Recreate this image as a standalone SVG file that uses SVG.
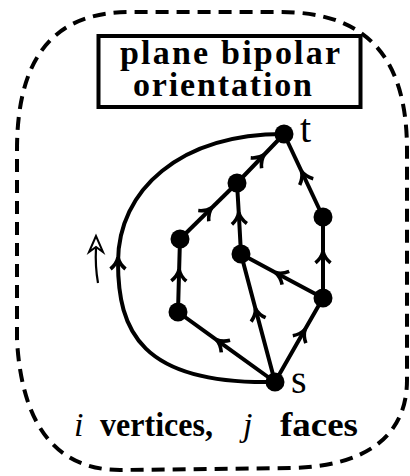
<svg xmlns="http://www.w3.org/2000/svg" width="410" height="476" viewBox="0 0 410 476">
<style>
.edge{fill:none;stroke:#000;stroke-width:4;marker-mid:url(#arr)}
.node{fill:#000}
.lbl{font-family:"Liberation Serif",serif;font-size:40px;fill:#000}
.title{font-family:"Liberation Serif",serif;font-weight:bold;font-size:34px;fill:#000}
.cap{font-family:"Liberation Serif",serif;font-size:34px;font-weight:bold;fill:#000}
.math{font-family:"Liberation Serif",serif;font-size:34px;font-style:italic;fill:#000}
</style>
<defs>
<marker id="arr" markerUnits="userSpaceOnUse" viewBox="-14 -14 28 28" markerWidth="28" markerHeight="28" refX="0" refY="0" orient="auto">
<path d="M -7,-7.5 Q -2,-1.5 4.5,0 Q -2,1.5 -7,7.5" fill="none" stroke="#000" stroke-width="3.6" stroke-linecap="butt"/>
</marker>
</defs>
<rect width="410" height="476" fill="#fff"/>
<path id="boundary" d="M 17,340 L 17,150 C 17,50 60,12 130,12 L 280,12 C 360,12 407,50 407,150 L 407,380 C 407,440 360,467 290,468 L 120,470 C 60,470 22,430 17,340 Z" fill="none" stroke="#000" stroke-width="4" stroke-dasharray="13 8"/>
<g id="title">
<rect x="98.5" y="36" width="262" height="71" fill="none" stroke="#000" stroke-width="4"/>
<text class="title" x="120" y="64" textLength="220" lengthAdjust="spacing">plane bipolar</text>
<text class="title" x="133" y="96" textLength="179" lengthAdjust="spacing">orientation</text>
</g>
<g id="connectors">
<path class="edge" d="M 275,382 C 140,385 118,330 118,262 C 118,190 180,134 284,134"/>
<path class="edge" d="M 275,382 L 220,342.3 L 178,312"/>
<path class="edge" d="M 275,382 L 256.6,312.9 L 241,254"/>
<path class="edge" d="M 275,382 L 302.8,333.3 L 323,298"/>
<path class="edge" d="M 178,312 L 179,274 L 180,239"/>
<path class="edge" d="M 180,239 L 208.5,211 L 237,183"/>
<path class="edge" d="M 241,254 L 239,217 L 237,183"/>
<path class="edge" d="M 323,298 L 279.5,274.7 L 241,254"/>
<path class="edge" d="M 323,298 L 323,255.9 L 323,217"/>
<path class="edge" d="M 323,217 L 303.5,175.5 L 284,134"/>
<path class="edge" d="M 237,183 L 261,158 L 284,134"/>
</g>
<g id="direction-arrow">
<path d="M 98,283 Q 95,266 96,248" fill="none" stroke="#000" stroke-width="2.2"/>
<path d="M 96,236 L 89,252 L 96,247 L 103,252 Z" fill="#fff" stroke="#000" stroke-width="2" stroke-linejoin="miter"/>
</g>
<g id="node-t"><circle class="node" cx="284" cy="134" r="9.5"/><text class="lbl" x="300" y="142">t</text></g>
<g id="node-a"><circle class="node" cx="237" cy="183" r="9.5"/></g>
<g id="node-b"><circle class="node" cx="180" cy="239" r="9.5"/></g>
<g id="node-c"><circle class="node" cx="323" cy="217" r="9.5"/></g>
<g id="node-d"><circle class="node" cx="241" cy="254" r="9.5"/></g>
<g id="node-e"><circle class="node" cx="323" cy="298" r="9.5"/></g>
<g id="node-f"><circle class="node" cx="178" cy="312" r="9.5"/></g>
<g id="node-s"><circle class="node" cx="275" cy="382" r="9.5"/><text class="lbl" x="291" y="393">s</text></g>
<g id="caption">
<text class="math" x="74" y="436">i</text>
<text class="cap" x="100" y="436" textLength="113" lengthAdjust="spacingAndGlyphs">vertices,</text>
<text class="math" x="243" y="436">j</text>
<text class="cap" x="280" y="436" textLength="78" lengthAdjust="spacingAndGlyphs">faces</text>
</g>
</svg>
